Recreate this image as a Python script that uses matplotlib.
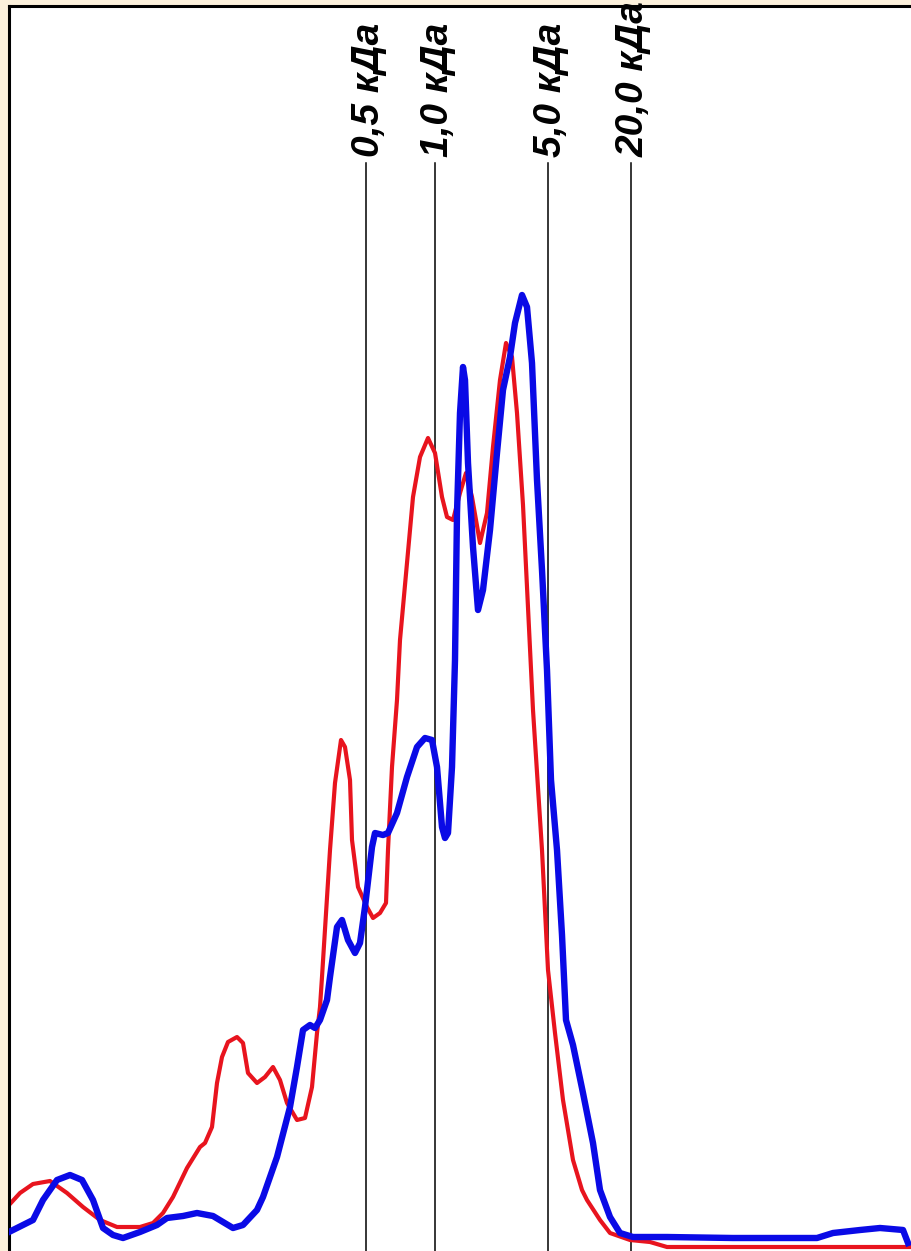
import matplotlib.pyplot as plt

# elution position (px scale) and detector signal (arb. units)
blue_x = [9, 33, 43, 57, 70, 82, 93, 103, 113, 123, 140, 157, 167, 183, 197, 213, 223, 233, 243, 257,
          263, 277, 290, 297, 303, 310, 315, 320, 327, 330, 337, 342, 348, 355, 360, 365, 372, 375, 383,
          388, 397, 407, 417, 425, 432, 437, 442, 445, 448, 452, 455, 457, 460, 463, 465, 468, 473, 478,
          483, 490, 497, 503, 510, 515, 522, 527, 532, 537, 542, 547, 551, 557, 562, 566, 573, 583, 593,
          600, 610, 620, 633, 667, 733, 817, 833, 860, 880, 903, 908]
blue_y = [19, 31, 51, 71, 76, 71, 51, 23, 16, 13, 19, 26, 33, 35, 38, 35, 29, 23, 26, 41,
          54, 94, 144, 184, 221, 226, 223, 231, 251, 274, 324, 331, 311, 298, 308, 344, 404, 418, 416,
          418, 438, 474, 504, 513, 511, 484, 424, 413, 418, 484, 591, 738, 838, 884, 871, 788, 704, 641,
          661, 721, 798, 861, 894, 928, 956, 944, 888, 771, 681, 581, 471, 401, 316, 231, 206, 158, 108,
          61, 34, 18, 14, 14, 13, 13, 18, 21, 23, 21, 8]

red_x = [9, 20, 33, 50, 67, 83, 100, 117, 140, 153, 163, 173, 187, 200, 205, 212, 217, 222, 228, 237,
         243, 248, 257, 265, 273, 280, 287, 297, 305, 312, 317, 320, 322, 330, 335, 341, 345, 350, 352,
         358, 367, 373, 380, 386, 388, 392, 397, 400, 407, 413, 420, 428, 435, 442, 447, 453, 460, 466,
         472, 480, 487, 493, 500, 506, 512, 517, 523, 533, 542, 548, 555, 563, 573, 582, 587, 600,
         610, 630, 650, 667, 700, 910]
red_y = [46, 58, 67, 70, 58, 44, 31, 24, 24, 28, 38, 54, 83, 104, 108, 124, 168, 194, 209, 214,
         208, 178, 168, 174, 184, 171, 148, 131, 133, 164, 218, 244, 274, 401, 468, 511, 504, 471, 411,
         364, 344, 333, 338, 348, 401, 484, 551, 611, 688, 754, 794, 813, 798, 754, 734, 731, 758, 778,
         754, 708, 738, 804, 871, 908, 894, 838, 746, 541, 401, 281, 218, 151, 91, 61, 51, 31,
         18, 11, 9, 4, 4, 4]

markers_x = [366, 435, 548, 631]
markers_lbl = ['0,5 кДа', '1,0 кДа', '5,0 кДа', '20,0 кДа']
marker_top = 1088

fig = plt.figure(figsize=(9.12, 12.51), dpi=100, facecolor='#FCF1DC')
ax = fig.add_axes([9 / 912, 0, 903 / 912, 1245 / 1251])
ax.set_facecolor('white')

# size-marker lines with rotated labels
for mx, lbl in zip(markers_x, markers_lbl):
    ax.plot([mx, mx], [0, marker_top], color='black', lw=1.1, zorder=1)
    ax.text(mx + 3, marker_top + 6, lbl, rotation=90, ha='center', va='bottom',
            fontsize=28, fontweight='bold', fontstyle='italic', family='Liberation Sans')

ax.plot(red_x, red_y, color='#E8141E', lw=3, solid_joinstyle='round', zorder=2)
ax.plot(blue_x, blue_y, color='#0A0AE6', lw=4.6, solid_joinstyle='round', zorder=3)

ax.set_xlim(9, 912)
ax.set_ylim(0, 1245)
ax.set_xticks([])
ax.set_yticks([])
for side in ['right', 'bottom']:
    ax.spines[side].set_visible(False)
for side in ['left', 'top']:
    ax.spines[side].set_linewidth(2.2)

fig.savefig('out.png', dpi=100, facecolor=fig.get_facecolor())
